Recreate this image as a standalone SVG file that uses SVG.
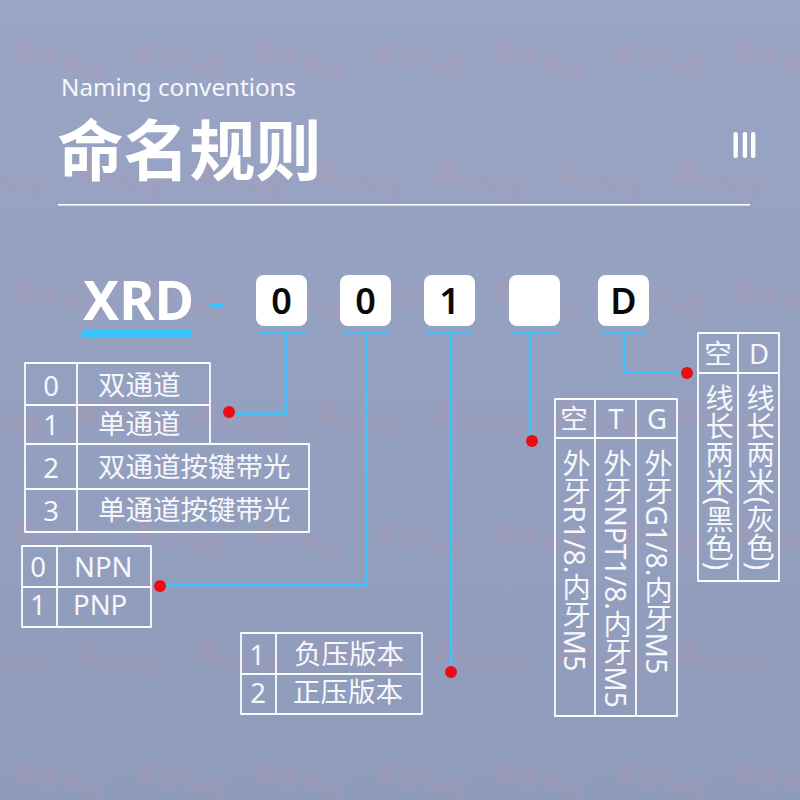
<svg xmlns="http://www.w3.org/2000/svg" width="800" height="800" viewBox="0 0 800 800">
<style>
text{font-family:"Noto Sans","Noto Sans CJK SC",sans-serif;fill:#f6f7fb}
text.wm{font-size:23px;fill:#d08a9c;fill-opacity:.26;font-family:"Noto Sans CJK SC",sans-serif;text-anchor:middle}
text.hi{fill:#fff}
.grid{fill:none;stroke:#fbfcfe;stroke-width:1.8;stroke-linejoin:round}
.t{font-size:27.5px}
.m{text-anchor:middle}
.v{font-size:28.2px;writing-mode:vertical-rl}
.box{fill:#fff}
text.d{font-size:36px;font-weight:600;fill:#0a0a0a;text-anchor:middle}
.bar{fill:#3cc4ff}
.c{fill:none;stroke:#3cc4ff;stroke-width:2.5}
.dot{fill:#f00a14}
</style>
<defs>
<linearGradient id="bg" x1="0" y1="0" x2="0" y2="1"><stop offset="0" stop-color="#9aa5c5"/><stop offset="1" stop-color="#8f9bbb"/></linearGradient>
</defs>
<rect width="800" height="800" fill="url(#bg)"/>
<g id="watermark">
<g transform="translate(60 60)"><text class="wm" y="8" transform="rotate(12)">赢正科技</text><text class="wm" y="8" transform="translate(120 0) rotate(12)">赢正科技</text><text class="wm" y="8" transform="translate(240 0) rotate(12)">赢正科技</text><text class="wm" y="8" transform="translate(360 0) rotate(12)">赢正科技</text><text class="wm" y="8" transform="translate(480 0) rotate(12)">赢正科技</text><text class="wm" y="8" transform="translate(600 0) rotate(12)">赢正科技</text><text class="wm" y="8" transform="translate(720 0) rotate(12)">赢正科技</text></g>
<g transform="translate(0 180)"><text class="wm" y="8" transform="rotate(12)">赢正科技</text><text class="wm" y="8" transform="translate(120 0) rotate(12)">赢正科技</text><text class="wm" y="8" transform="translate(240 0) rotate(12)">赢正科技</text><text class="wm" y="8" transform="translate(360 0) rotate(12)">赢正科技</text><text class="wm" y="8" transform="translate(480 0) rotate(12)">赢正科技</text><text class="wm" y="8" transform="translate(600 0) rotate(12)">赢正科技</text><text class="wm" y="8" transform="translate(720 0) rotate(12)">赢正科技</text></g>
<g transform="translate(60 300)"><text class="wm" y="8" transform="rotate(12)">赢正科技</text><text class="wm" y="8" transform="translate(120 0) rotate(12)">赢正科技</text><text class="wm" y="8" transform="translate(240 0) rotate(12)">赢正科技</text><text class="wm" y="8" transform="translate(360 0) rotate(12)">赢正科技</text><text class="wm" y="8" transform="translate(480 0) rotate(12)">赢正科技</text><text class="wm" y="8" transform="translate(600 0) rotate(12)">赢正科技</text><text class="wm" y="8" transform="translate(720 0) rotate(12)">赢正科技</text></g>
<g transform="translate(0 420)"><text class="wm" y="8" transform="rotate(12)">赢正科技</text><text class="wm" y="8" transform="translate(120 0) rotate(12)">赢正科技</text><text class="wm" y="8" transform="translate(240 0) rotate(12)">赢正科技</text><text class="wm" y="8" transform="translate(360 0) rotate(12)">赢正科技</text><text class="wm" y="8" transform="translate(480 0) rotate(12)">赢正科技</text><text class="wm" y="8" transform="translate(600 0) rotate(12)">赢正科技</text><text class="wm" y="8" transform="translate(720 0) rotate(12)">赢正科技</text></g>
<g transform="translate(60 540)"><text class="wm" y="8" transform="rotate(12)">赢正科技</text><text class="wm" y="8" transform="translate(120 0) rotate(12)">赢正科技</text><text class="wm" y="8" transform="translate(240 0) rotate(12)">赢正科技</text><text class="wm" y="8" transform="translate(360 0) rotate(12)">赢正科技</text><text class="wm" y="8" transform="translate(480 0) rotate(12)">赢正科技</text><text class="wm" y="8" transform="translate(600 0) rotate(12)">赢正科技</text><text class="wm" y="8" transform="translate(720 0) rotate(12)">赢正科技</text></g>
<g transform="translate(0 660)"><text class="wm" y="8" transform="rotate(12)">赢正科技</text><text class="wm" y="8" transform="translate(120 0) rotate(12)">赢正科技</text><text class="wm" y="8" transform="translate(240 0) rotate(12)">赢正科技</text><text class="wm" y="8" transform="translate(360 0) rotate(12)">赢正科技</text><text class="wm" y="8" transform="translate(480 0) rotate(12)">赢正科技</text><text class="wm" y="8" transform="translate(600 0) rotate(12)">赢正科技</text><text class="wm" y="8" transform="translate(720 0) rotate(12)">赢正科技</text></g>
<g transform="translate(60 780)"><text class="wm" y="8" transform="rotate(12)">赢正科技</text><text class="wm" y="8" transform="translate(120 0) rotate(12)">赢正科技</text><text class="wm" y="8" transform="translate(240 0) rotate(12)">赢正科技</text><text class="wm" y="8" transform="translate(360 0) rotate(12)">赢正科技</text><text class="wm" y="8" transform="translate(480 0) rotate(12)">赢正科技</text><text class="wm" y="8" transform="translate(600 0) rotate(12)">赢正科技</text><text class="wm" y="8" transform="translate(720 0) rotate(12)">赢正科技</text></g>
</g>
<g id="header">
<text x="61" y="96" font-size="24.200">Naming conventions</text>
<text class="hi" x="57.500" y="175" font-size="66" font-weight="700">命名规则</text>
<rect x="58" y="204" width="692" height="1.6" fill="#fff"/>
<rect x="733.500" y="132" width="4.400" height="26" rx="2" fill="#fff"/><rect x="742.700" y="132" width="4.400" height="26" rx="2" fill="#fff"/><rect x="751" y="132" width="4.400" height="26" rx="2" fill="#fff"/>
</g>
<g id="connectors">
<path class="c" d="M236 413.500H286V332"/>
<path class="c" d="M165 585H366.500V332"/>
<path class="c" d="M451 332V672"/>
<path class="c" d="M530 332V441"/>
<path class="c" d="M624 332V372.500H687"/>
</g>
<g id="code">
<text class="hi" x="83" y="320" font-size="54" font-weight="700">XRD</text>
<rect class="bar" x="82" y="330" width="109" height="7"/>
<rect class="bar" x="210" y="304" width="13" height="4"/>
</g>
<g id="seg1"><rect class="box" x="256" y="275" width="51" height="51" rx="8"/><text class="d" x="281.500" y="314">0</text><rect class="bar" x="259" y="331" width="46" height="3"/></g>
<g id="seg2"><rect class="box" x="340" y="275" width="51" height="51" rx="8"/><text class="d" x="365.500" y="314">0</text><rect class="bar" x="342" y="331" width="47" height="3"/></g>
<g id="seg3"><rect class="box" x="424" y="275" width="51" height="51" rx="8"/><text class="d" x="449.500" y="314">1</text><rect class="bar" x="426" y="331" width="47" height="3"/></g>
<g id="seg4"><rect class="box" x="509" y="275" width="51" height="51" rx="8"/><rect class="bar" x="511" y="331" width="47" height="3"/></g>
<g id="seg5"><rect class="box" x="598" y="275" width="51" height="51" rx="8"/><text class="d" x="623.500" y="314">D</text><rect class="bar" x="601" y="331" width="47" height="3"/></g>
<g id="table-channel">
<path class="grid" d="M25 363H210V444H309V532H25ZM25 405H210M25 444H210M25 489H309M77 363V532"/>
<text class="t m" x="51" y="396">0</text><text class="t" x="98" y="395">双通道</text>
<text class="t m" x="51" y="435">1</text><text class="t" x="98" y="434">单通道</text>
<text class="t m" x="51" y="478">2</text><text class="t" x="98" y="477">双通道按键带光</text>
<text class="t m" x="51" y="521">3</text><text class="t" x="98" y="520">单通道按键带光</text>
<circle class="dot" cx="229" cy="412" r="6"/>
</g>
<g id="table-output">
<path class="grid" d="M22 546H151V627H22ZM22 587H151M57 546V627"/>
<text class="t m" x="38" y="577">0</text><text class="t" x="74" y="577">NPN</text>
<text class="t m" x="38" y="615">1</text><text class="t" x="73" y="615">PNP</text>
<circle class="dot" cx="160" cy="586" r="6"/>
</g>
<g id="table-pressure">
<path class="grid" d="M241 633H422V714H241ZM241 674H422M276 633V714"/>
<text class="t m" x="257" y="665">1</text><text class="t" x="294" y="664">负压版本</text>
<text class="t m" x="258" y="703">2</text><text class="t" x="293" y="702">正压版本</text>
<circle class="dot" cx="451" cy="672" r="6"/>
</g>
<g id="table-thread">
<path class="grid" d="M555 399H677V716H555ZM555 438H677M595 399V716M636 399V716"/>
<text class="t m" x="574" y="429">空</text><text class="t m" x="616" y="429">T</text><text class="t m" x="657" y="429">G</text>
<text class="v" x="575" y="449">外牙R1/8.内牙M5</text>
<text class="v" x="616" y="449">外牙NPT1/8.内牙M5</text>
<text class="v" x="657" y="449">外牙G1/8.内牙M5</text>
<circle class="dot" cx="532" cy="441" r="6"/>
</g>
<g id="table-cable">
<path class="grid" d="M698 333H779V581H698ZM698 373H779M738 333V581"/>
<text class="t m" x="718" y="364">空</text><text class="t m" x="759" y="364">D</text>
<text class="v" x="718" y="384">线长两米(黑色)</text>
<text class="v" x="759" y="384">线长两米(灰色)</text>
<circle class="dot" cx="687" cy="373" r="6"/>
</g>
</svg>
